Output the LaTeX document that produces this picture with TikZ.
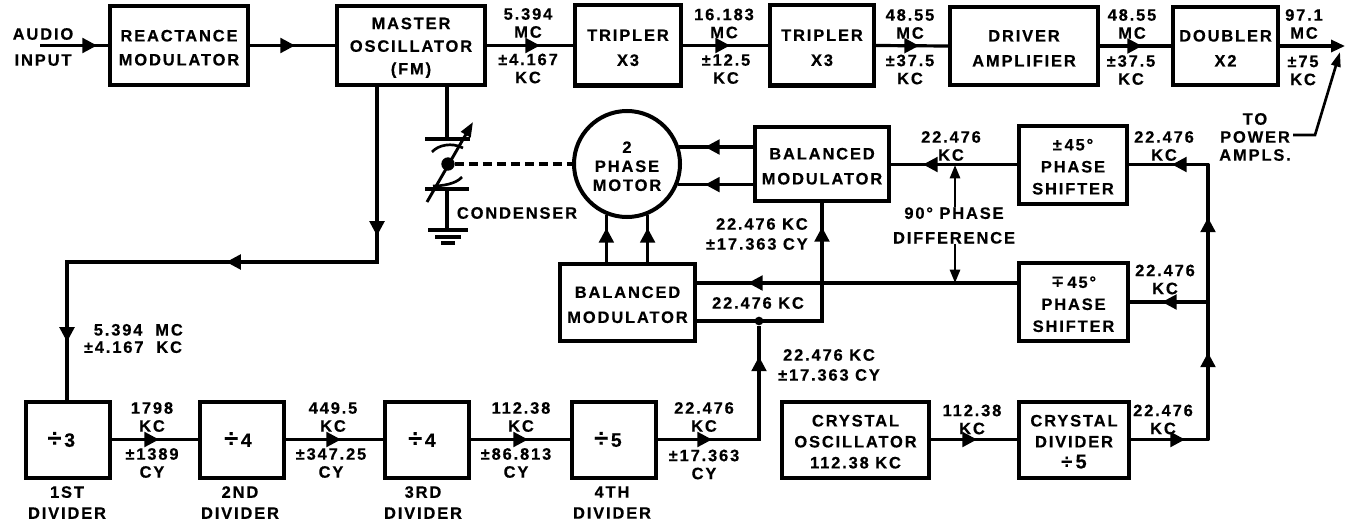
\documentclass[tikz,border=0pt]{standalone}
\usepackage{fontspec}
\setmainfont[LetterSpace=11,BoldFeatures={FakeBold=0.4}]{Liberation Sans}
\newfontfamily\djv{DejaVu Sans}
\usetikzlibrary{arrows.meta,decorations.markings,calc}
\newcommand\lf[1]{\bfseries\fontsize{12.4pt}{#1pt}\selectfont}
\newcommand\st{\rule{0pt}{12pt}}
\newcommand\dv[1]{{\fontsize{19pt}{19pt}\selectfont ÷}\,{\fontsize{14.5pt}{14.5pt}\selectfont #1}}
\newcommand\lbl[3]{\node[txt] (#1) at (#2) {#3};}
\tikzset{
  x=0.75pt,y=-0.75pt,
  blk/.style={draw,line width=3pt,inner sep=0pt,align=center},
  txt/.style={inner sep=0pt,align=center,font=\lf{13.5}},
  wire/.style={line width=2.4pt},
  thin wire/.style={line width=2pt},
  tip at/.style={postaction={decorate,decoration={markings,mark=at position #1*0.75pt with {\arrow{Triangle[length=11pt,width=11pt]}}}}},
  small head/.style={-{Triangle[length=10pt,width=7.5pt]}},
}
\begin{document}
\begin{tikzpicture}
\useasboundingbox (0,0) rectangle (1348,528);
\fill[white] (0,0) rectangle (1348,528);
% top row
\node[blk,minimum width=103.5pt,minimum height=59pt,font=\lf{18}] (react) at (179,45.5) {\st REACTANCE\\MODULATOR};
\node[blk,minimum width=111pt,minimum height=59pt,font=\lf{17}] (master) at (411,45.5) {\st MASTER\\OSCILLATOR\\(FM)};
\node[blk,minimum width=79.5pt,minimum height=60pt,font=\lf{18.75}] (trip1) at (628,45.5) {\st TRIPLER\\X3};
\node[blk,minimum width=78pt,minimum height=60pt,font=\lf{18.75}] (trip2) at (822,45.5) {\st TRIPLER\\X3};
\node[blk,minimum width=111pt,minimum height=58.5pt,font=\lf{18.75}] (driver) at (1024,46) {\st DRIVER\\AMPLIFIER};
\node[blk,minimum width=78.75pt,minimum height=58.5pt,font=\lf{18.75}] (doubler) at (1225.5,46) {\st DOUBLER\\X2};
% middle
\node[draw,circle,line width=3pt,minimum size=79.5pt,inner sep=0pt,align=center,font=\lf{14.25}] (motor) at (627,164) {\st 2\\PHASE\\MOTOR};
\node[blk,minimum width=100.5pt,minimum height=55.5pt,font=\lf{18.75}] (balT) at (822,164) {\st BALANCED\\MODULATOR};
\node[blk,minimum width=101.25pt,minimum height=57.75pt,font=\lf{18.75}] (balB) at (627.5,302.5) {\st BALANCED\\MODULATOR};
\node[blk,minimum width=81pt,minimum height=58.5pt,font=\lf{16.5}] (ps1) at (1073,164.5) {\st ±\,45°\hspace{14pt}\\PHASE\\SHIFTER};
\node[blk,minimum width=81.75pt,minimum height=58.5pt,font=\lf{16.5}] (ps2) at (1073.5,302) {\st{\djv\bfseries ∓}\,45°\hspace{14pt}\\PHASE\\SHIFTER};
% bottom row
\node[blk,minimum width=63pt,minimum height=57pt,font=\lf{16}] (div1) at (68,439.5) {\dv{3}\hspace{10pt}};
\node[blk,minimum width=63pt,minimum height=57pt,font=\lf{16}] (div2) at (242,439.5) {\dv{4}\hspace{6pt}};
\node[blk,minimum width=63pt,minimum height=57pt,font=\lf{16}] (div3) at (427,439.5) {\dv{4}\hspace{7.5pt}};
\node[blk,minimum width=63pt,minimum height=57pt,font=\lf{16}] (div4) at (614,439.5) {\dv{5}\hspace{9pt}};
\node[blk,minimum width=110.25pt,minimum height=57pt,font=\lf{15.75}] (xosc) at (855.5,439.5) {\st CRYSTAL\\OSCILLATOR\\112.38 KC};
\node[blk,minimum width=82.5pt,minimum height=57pt,font=\lf{15.75}] (xdiv) at (1074,439.5) {\st CRYSTAL\\DIVIDER\\{\fontsize{15pt}{15pt}\selectfont ÷\,5}};
% helper points
\coordinate (ain) at (40,45.5);
\coordinate (out) at (1345,46);
\coordinate (md1) at (377,262);
\coordinate (md2) at (67,262);
\coordinate (bus) at (1208,439.5);
\coordinate (bus2) at (1208,164.5);
\coordinate (cr) at (822,321);
\node[circle,fill,inner sep=0pt,minimum size=6.5pt] (dot) at (759,321) {};
\coordinate (y283) at (955,283);
\coordinate (j1) at (955,165);
\coordinate (pw1) at (1293,135);
\coordinate (pw2) at (1315,135);
\coordinate (pw3) at (1340,52);
% connectors
\draw[wire,tip at=57] (ain) -- (react.west);
\draw[wire,tip at=45] (react.east) -- (master.west);
\draw[wire,tip at=53] (master.east) -- (trip1.west);
\draw[wire,tip at=47] (trip1.east) -- (trip2.west);
\draw[wire,tip at=43] (trip2.east) -- (driver.west);
\draw[wire,tip at=42] (driver.east) -- (doubler.west);
\draw[wire,-{Triangle[length=10.5pt,width=9pt]}] (doubler.east) -- (out);
\draw[thin wire,line join=miter,-{Triangle[length=11pt,width=7pt]}] (pw1) -- (pw2) -- (pw3);
\draw[wire,tip at=149,tip at=326,tip at=565] (master.south -| md1) -- (md1) -- (md2) -- (div1.north -| md2);
\draw[wire,tip at=47] (div1.east) -- (div2.west);
\draw[wire,tip at=55] (div2.east) -- (div3.west);
\draw[wire,tip at=57] (div3.east) -- (div4.west);
\draw[wire,tip at=54,tip at=184] (div4.east) -- (div4.east -| dot) -- (dot);
\draw[wire,tip at=219] (balB.east |- dot) -- (cr) -- (balT.south);
\draw[wire,tip at=269] (ps2.west |- y283) -- (balB.east |- y283);
\draw[wire,tip at=94] (ps1.west) -- (balT.east |- ps1.west);
\draw[wire,tip at=46] (xosc.east) -- (xdiv.west);
\draw[wire,line join=round,tip at=54,tip at=164,tip at=299,tip at=388] (xdiv.east) -- (bus) -- (bus2) -- (ps1.east);
\draw[wire,tip at=46] (ps2.east -| bus) -- (ps2.east);
\draw[wire,tip at=48] (motor.18 -| balT.west) -- (motor.18);
\draw[wire,tip at=48] (motor.-22 -| balT.west) -- (motor.-22);
\draw[wire,tip at=34] (balB.north -| motor.-112) -- (motor.-112);
\draw[wire,tip at=34] (balB.north -| motor.-68) -- (motor.-68);
% 90 degree pointers
\node[txt,font=\lf{18.5}] (ninety) at (954,225.5) {90° PHASE\\DIFFERENCE};
\draw[thin wire,small head] (ninety.north -| j1) -- (j1);
\draw[thin wire,small head] (ninety.south -| y283) -- (y283);
% condenser
\coordinate (capT) at (447,139);
\coordinate (capB) at (447,189);
\coordinate (gnd) at (447,230);
\node[circle,fill,inner sep=0pt,minimum size=10pt] (capdot) at (448,164) {};
\draw[wire] (master.south -| capT) -- (capT);
\draw[wire] (425,139) -- (470,139);
\draw[wire] (425,189) -- (469,189);
\draw[wire] (capB) -- (gnd);
\draw[wire] (428,230) -- (468,230);
\draw[wire] (435,237) -- (461,237);
\draw[wire] (441,243) -- (455,243);
\draw[line width=2pt] (432,152) .. controls (438,145) and (452,142) .. (463,148);
\draw[line width=2pt] (433,186) .. controls (442,186) and (456,184) .. (462,177);
\draw[line width=2.2pt,-{Triangle[length=11pt,width=8pt]}] (427,202) -- (473,122);
\draw[line width=2.4pt,dash pattern=on 7pt off 3.5pt] (capdot) -- (motor.west);
% labels
\lbl{tAudio}{43,47}{AUDIO\\[6pt]INPUT}
\lbl{l1a}{528,23}{5.394\\MC}
\lbl{l1b}{528,68.5}{±4.167\\KC}
\lbl{l2a}{724,23.5}{16.183\\MC}
\lbl{l2b}{726,69}{±12.5\\KC}
\lbl{l3a}{910,24}{48.55\\MC}
\lbl{l3b}{910,69.5}{±37.5\\KC}
\lbl{l4a}{1132,24}{48.55\\MC}
\lbl{l4b}{1131,70}{±37.5\\KC}
\lbl{l5a}{1304,24}{97.1\\MC}
\lbl{l5b}{1303,70.5}{±75\\KC}
\node[txt] (power) at (1255,137) {TO\\POWER\\AMPLS.};
\lbl{l6}{951,146}{22.476\\KC}
\lbl{l7}{1164,146}{22.476\\KC}
\lbl{l8}{1165,279.5}{22.476\\KC}
\node[txt,font=\lf{15},align=right,anchor=east] (l9) at (808,234) {22.476 KC\\±17.363 CY};
\node[txt] (l10) at (758,303) {22.476 KC};
\node[txt,font=\lf{15}] (l11) at (829,365) {22.476 KC\\±17.363 CY};
\node[txt,font=\lf{13}] (l12) at (133,338.5) {\hspace*{8pt}5.394 \ MC\\±4.167 \ KC};
\node[txt] (cond) at (517,213) {CONDENSER};
\lbl{l13}{152,417}{1798\\KC}
\lbl{l14}{152,463}{±1389\\CY}
\lbl{l15}{333,417}{449.5\\KC}
\lbl{l16}{331,463}{±347.25\\CY}
\lbl{l17}{521,417}{112.38\\KC}
\lbl{l18}{516,463}{±86.813\\CY}
\lbl{l19}{704,417}{22.476\\KC}
\lbl{l20}{704,464.5}{±17.363\\CY}
\lbl{l21}{972,419.5}{112.38\\KC}
\lbl{l22}{1163,419.5}{22.476\\KC}
\node[txt,font=\lf{15.75}] (d1) at (67,502.5) {1ST\\DIVIDER};
\node[txt,font=\lf{15.75}] (d2) at (240,502.5) {2ND\\DIVIDER};
\node[txt,font=\lf{15.75}] (d3) at (423,502.5) {3RD\\DIVIDER};
\node[txt,font=\lf{15.75}] (d4) at (612,502.5) {4TH\\DIVIDER};
\end{tikzpicture}
\end{document}
